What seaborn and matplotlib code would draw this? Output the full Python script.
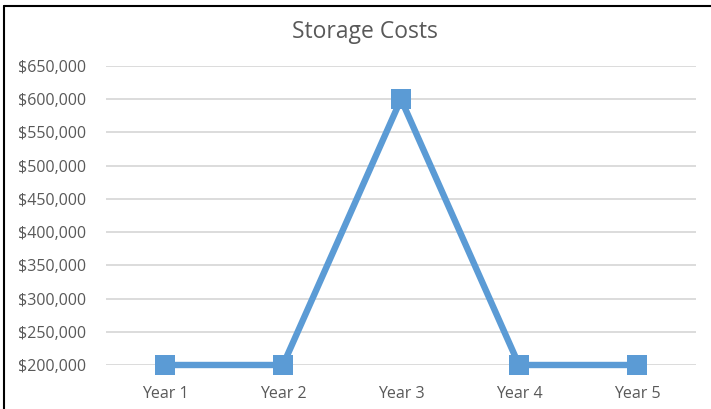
import matplotlib
matplotlib.use('Agg')
import matplotlib.pyplot as plt
from matplotlib.lines import Line2D
from matplotlib.ticker import FuncFormatter, MultipleLocator
import pandas as pd
import seaborn as sns

years = ['Year 1', 'Year 2', 'Year 3', 'Year 4', 'Year 5']
costs = [200000, 200000, 600000, 200000, 200000]

sns.set_style('white')
plt.rcParams['font.family'] = ['Open Sans', 'DejaVu Sans']

df = pd.DataFrame({'year': years, 'cost': costs})

fig = plt.figure(figsize=(7.11, 4.09), dpi=100)
ax = fig.add_axes([0.149, 0.1076, 0.83, 0.731])

sns.lineplot(data=df, x='year', y='cost', sort=False, ax=ax, color='#5B9BD5',
             linewidth=4.6, marker='s', markersize=14, markeredgewidth=0,
             zorder=3, clip_on=False)

ax.set_xlim(-0.5, 4.5)
ax.set_ylim(200000, 650000)
ax.yaxis.set_major_locator(MultipleLocator(50000))
ax.yaxis.set_major_formatter(FuncFormatter(lambda v, p: f'${v:,.0f}'))
ax.grid(axis='y', color='#D9D9D9', linewidth=1.3, zorder=0)
ax.set_axisbelow(True)
for s in ax.spines.values():
    s.set_visible(False)
ax.set_xlabel('')
ax.set_ylabel('')
ax.tick_params(axis='both', length=0, labelsize=11.5, labelcolor='#595959')
ax.tick_params(axis='x', pad=15)
ax.tick_params(axis='y', pad=14)

fig.text(0.513, 0.922, 'Storage Costs', ha='center', va='center', fontsize=16.5, color='#595959')

# chart frame (left and top edges visible)
fig.add_artist(Line2D([0.006, 0.006], [0, 0.985], transform=fig.transFigure, color='black', linewidth=1.5))
fig.add_artist(Line2D([0.006, 1.0], [0.985, 0.985], transform=fig.transFigure, color='black', linewidth=1.5))

fig.savefig('out.png', dpi=100)
